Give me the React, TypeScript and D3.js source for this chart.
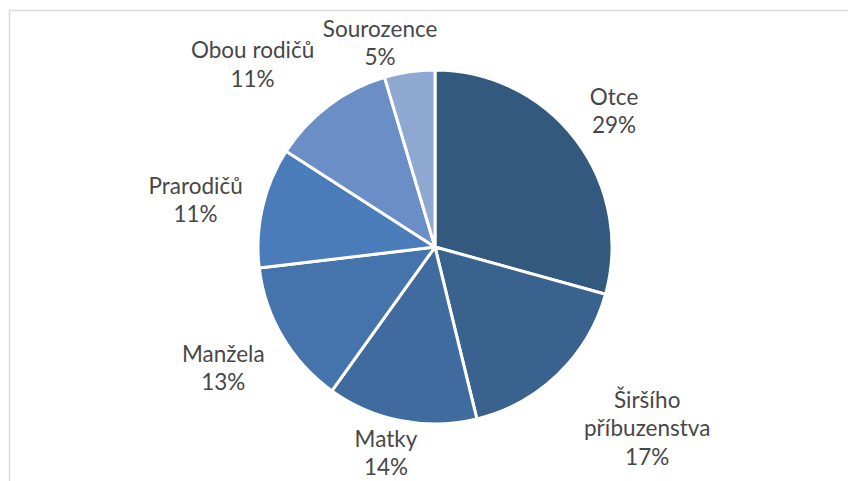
import React, { useEffect, useRef } from "react";
import * as d3 from "d3";

const categories = [
  "Otce",
  "Širšího příbuzenstva",
  "Matky",
  "Manžela",
  "Prarodičů",
  "Obou rodičů",
  "Sourozence",
];
const values = [29.3, 16.9, 13.7, 13.2, 11.0, 11.3, 4.6];
const colors = [
  "#34597f",
  "#3a628f",
  "#406b9f",
  "#4574ac",
  "#4a7cba",
  "#6a8ec5",
  "#8ea8d2",
];

// label placement: distance from centre and angle shift (deg) from slice middle
const labelRadius = [225, 279, 212, 244, 244, 258, 211];
const labelShift = [0, -5.4, 2.4, 0.8, -1.9, -8.1, -6.8];

const App = () => {
  const svgRef = useRef<SVGSVGElement>(null);

  useEffect(() => {
    const width = 848;
    const height = 481;
    const cx = 435;
    const cy = 247;
    const radius = 177;
    const lineHeight = 28.4;

    const svg = d3.select(svgRef.current);
    svg.selectAll("*").remove();
    svg.attr("width", width).attr("height", height);

    svg
      .append("rect")
      .attr("width", width)
      .attr("height", height)
      .attr("fill", "#fff");

    // chart area border (cut off at right / bottom)
    svg
      .append("rect")
      .attr("x", 9.5)
      .attr("y", 10.5)
      .attr("width", 1000)
      .attr("height", 1000)
      .attr("fill", "none")
      .attr("stroke", "#d9d9d9")
      .attr("stroke-width", 1.5);

    const pie = d3
      .pie<number>()
      .sort(null)
      .value((d) => d);
    const arcs = pie(values);
    const arc = d3
      .arc<d3.PieArcDatum<number>>()
      .innerRadius(0)
      .outerRadius(radius);

    const g = svg.append("g").attr("transform", `translate(${cx},${cy})`);

    g.selectAll("path")
      .data(arcs)
      .enter()
      .append("path")
      .attr("d", arc)
      .attr("fill", (_, i) => colors[i])
      .attr("stroke", "#fff")
      .attr("stroke-width", 3)
      .attr("stroke-linejoin", "round");

    const labels = g
      .selectAll("text")
      .data(arcs)
      .enter()
      .append("text")
      .attr("text-anchor", "middle")
      .attr("font-family", "Lato, 'Open Sans', sans-serif")
      .attr("font-size", 22.5)
      .attr("fill", "#474747");

    labels.each(function (d, i) {
      const name = categories[i];
      const lines = name.length > 15 ? name.split(" ") : [name];
      lines.push(Math.round(values[i]) + "%");
      const a =
        (d.startAngle + d.endAngle) / 2 + (labelShift[i] * Math.PI) / 180;
      const x = labelRadius[i] * Math.sin(a);
      const y = -labelRadius[i] * Math.cos(a);
      const firstBase = y + 8 - ((lines.length - 1) * lineHeight) / 2;
      const t = d3.select(this);
      lines.forEach((ln, k) => {
        t.append("tspan")
          .attr("x", x)
          .attr("y", firstBase + k * lineHeight)
          .text(ln);
      });
    });
  }, []);

  return (
    <svg
      ref={svgRef}
      style={{ position: "absolute", left: 0, top: 0, display: "block" }}
    ></svg>
  );
};

export default App;
